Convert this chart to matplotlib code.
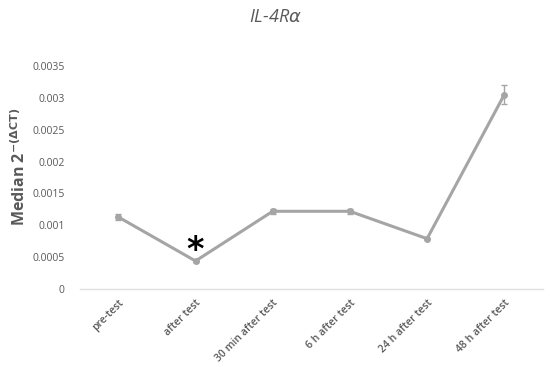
import numpy as np
import matplotlib
matplotlib.use("Agg")
from matplotlib import pyplot as plt

plt.rcParams['font.family'] = ['Open Sans', 'DejaVu Sans']

categories = ['pre-test', 'after test', '30 min after test', '6 h after test',
              '24 h after test', '48 h after test']
medians = [0.00113, 0.00044, 0.00122, 0.00122, 0.00079, 0.00305]
errors = [0.00004, 0.00001, 0.00004, 0.00004, 0.00001, 0.00015]
yticks = [0, 0.0005, 0.001, 0.0015, 0.002, 0.0025, 0.003, 0.0035]
yticklabels = ['0', '0.0005', '0.001', '0.0015', '0.002', '0.0025', '0.003', '0.0035']

grey = '#a5a5a5'
text_grey = '#595959'

fig = plt.figure(figsize=(5.5, 3.67), dpi=100)
ax = fig.add_axes([0.145, 0.2125, 0.842, 0.6075])

x = np.arange(len(categories))
ax.errorbar(x, medians, yerr=errors, color=grey, lw=2.2, marker='o', ms=4,
            capsize=2, elinewidth=1, ecolor=grey, capthick=1)

# significance marker above "after test"
ax.annotate('*', (x[1], medians[1]), xytext=(0, -4), textcoords='offset points',
            ha='center', va='bottom', fontsize=24, fontweight='bold',
            color='black', family='DejaVu Sans')

ax.set_xlim(-0.5, len(categories) - 0.5)
ax.set_ylim(0, 0.0035)
ax.set_yticks(yticks)
ax.set_yticklabels(yticklabels, fontsize=7.5, color=text_grey)
ax.set_xticks(x)
ax.set_xticklabels(categories, rotation=45, ha='right', rotation_mode='anchor',
                   fontsize=7.5, color=text_grey, fontweight='semibold')
ax.tick_params(axis='y', length=0, pad=11)
ax.tick_params(axis='x', length=0, pad=6)

for s in ['top', 'right', 'left']:
    ax.spines[s].set_visible(False)
ax.spines['bottom'].set_color('#e0e0e0')
ax.spines['bottom'].set_linewidth(1)

ax.set_ylabel(r'Median 2$^{\mathbf{-(\Delta CT)}}$', fontsize=11.5,
              fontweight='bold', color=text_grey)
ax.yaxis.set_label_coords(-0.11, 0.55)
fig.text(0.5, 0.955, r'IL-4R$\alpha$', ha='center', va='center', fontsize=13,
         style='italic', color=text_grey)

fig.savefig('out.png', dpi=100)
